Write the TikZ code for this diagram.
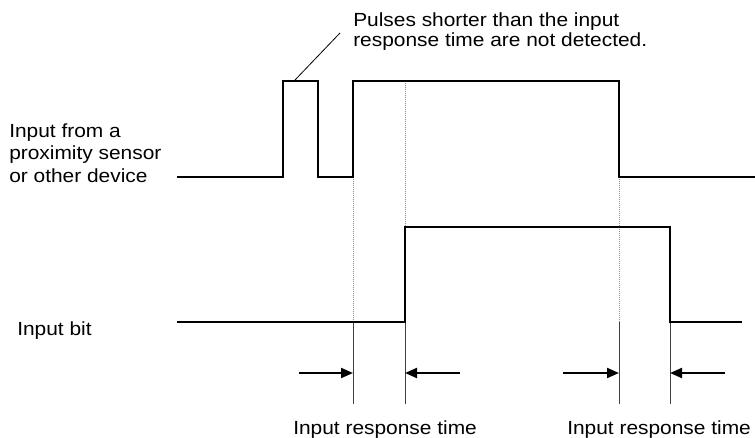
\documentclass[tikz,border=0pt]{standalone}
\usepackage{fontspec}
\setmainfont{Liberation Sans}[FakeStretch=1.1]
\usetikzlibrary{arrows.meta}
\begin{document}
\begin{tikzpicture}[x=0.75pt,y=-0.75pt,
  sig/.style={line width=1.9pt,line join=miter},
  guide/.style={line width=0.7pt,draw=black!75},
  dotguide/.style={line width=0.7pt,draw=black!45,dash pattern=on 0.75pt off 0.75pt},
  meas/.style={line width=1.5pt,-{Triangle[length=9pt,width=7.5pt]}},
  lbl/.style={inner sep=0pt,anchor=base west,align=left,font=\fontsize{14.25pt}{16.5pt}\selectfont},
  leader/.style={line width=0.6pt}]
\useasboundingbox (0,0) rectangle (755,438);
% upper signal
\coordinate (u0) at (177,177);
\coordinate (u1) at (283,177);
\coordinate (u2) at (283,81);
\coordinate (u3) at (318,81);
\coordinate (u4) at (318,177);
\coordinate (u5) at (353,177);
\coordinate (u6) at (353,81);
\coordinate (u7) at (619,81);
\coordinate (u8) at (619,177);
\coordinate (u9) at (755,177);
% lower signal
\coordinate (l0) at (177,322);
\coordinate (l1) at (405,322);
\coordinate (l2) at (405,227);
\coordinate (l3) at (670,227);
\coordinate (l4) at (670,322);
\coordinate (l5) at (742,322);
% guide points
\coordinate (g1a) at (353,322);
\coordinate (g1b) at (353,404);
\coordinate (g2a) at (405,81);
\coordinate (g2b) at (405,404);
\coordinate (g3a) at (619,322);
\coordinate (g3b) at (619,404);
\coordinate (g4b) at (670,404);
% arrows
\coordinate (a1s) at (299,373);
\coordinate (a1e) at (353,373);
\coordinate (a2s) at (460,373);
\coordinate (a2e) at (405,373);
\coordinate (a3s) at (563,373);
\coordinate (a3e) at (619,373);
\coordinate (a4s) at (725,373);
\coordinate (a4e) at (670,373);
% leader
\coordinate (ld1) at (295,80);
\coordinate (ld2) at (340,33);

% dotted guides
\draw[dotguide] (u5) -- (g1a);
\draw[dotguide] (g2a) -- (l2);
\draw[dotguide] (u8) -- (g3a);
% solid guides
\draw[guide] (g1a) -- (g1b);
\draw[guide] (l1) -- (g2b);
\draw[guide] (g3a) -- (g3b);
\draw[guide] (l4) -- (g4b);

% signals
\draw[sig] (u0) -- (u1) -- (u2) -- (u3) -- (u4) -- (u5) -- (u6) -- (u7) -- (u8) -- (u9);
\draw[sig] (l0) -- (l1) -- (l2) -- (l3) -- (l4) -- (l5);

% measurement arrows
\draw[meas] (a1s) -- (a1e);
\draw[meas] (a2s) -- (a2e);
\draw[meas] (a3s) -- (a3e);
\draw[meas] (a4s) -- (a4e);

% leader line
\draw[leader] (ld1) -- (ld2);

% labels (base anchor = baseline of last line)
\node[lbl,font=\fontsize{14.25pt}{15pt}\selectfont] (note) at (353,47) {Pulses shorter than the input\\response time are not detected.};
\node[lbl] (inlbl) at (9,182) {Input from a\\proximity sensor\\or other device};
\node[lbl] (bitlbl) at (17,335) {Input bit};
\node[lbl] (irt1) at (293,434) {Input response time};
\node[lbl] (irt2) at (567,434) {Input response time};
\end{tikzpicture}
\end{document}
